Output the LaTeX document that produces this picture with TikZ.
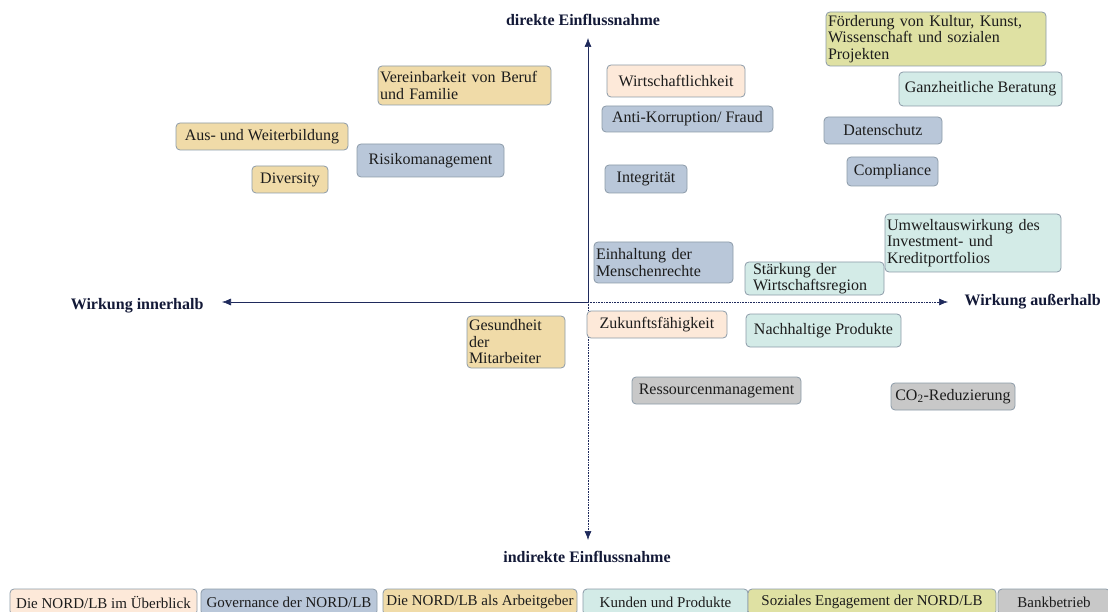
\documentclass[tikz,border=0pt]{standalone}
\usepackage{fontspec}
\setmainfont{Liberation Serif}
\usetikzlibrary{arrows.meta}

\definecolor{cpeach}{HTML}{FDE9D9}
\definecolor{cgov}{HTML}{B9C7D9}
\definecolor{ctan}{HTML}{F0DBA8}
\definecolor{cmint}{HTML}{D3EBE7}
\definecolor{colive}{HTML}{DFE1A3}
\definecolor{cbank}{HTML}{C8C8C8}
\definecolor{crand}{HTML}{8C9BA8}
\definecolor{cachse}{HTML}{1F2A5C}
\definecolor{ctext}{HTML}{1C1C1C}

\tikzset{
  thema/.style={draw=crand, line width=0.8pt, rounded corners=4pt, inner xsep=2pt,
    inner ysep=1pt, align=left, text=ctext, font=\fontsize{16}{16.5}\selectfont},
  ueberblick/.style={thema, fill=cpeach},
  governance/.style={thema, fill=cgov},
  arbeitgeber/.style={thema, fill=ctan},
  kunden/.style={thema, fill=cmint},
  sozial/.style={thema, fill=colive},
  bankbetrieb/.style={thema, fill=cbank},
  legende/.style={minimum height=26pt, inner xsep=1pt, font=\fontsize{15}{16}\selectfont},
  achsenname/.style={text=cachse!60!black, font=\fontsize{16}{16.5}\selectfont\bfseries},
  achse/.style={draw=cachse, line width=0.6pt, -{Latex[length=9pt,width=7pt]}},
}

\begin{document}
\begin{tikzpicture}[x=1pt, y=-1pt]
  \useasboundingbox (0,0) rectangle (1108,612);

  % axes
  \coordinate (mitte) at (588,302);
  \coordinate (oben) at (588,38);
  \coordinate (unten) at (588,540);
  \coordinate (links) at (222,302);
  \coordinate (rechts) at (948,302);

  \node[achsenname] (direkt) at (583,20) {direkte Einflussnahme};
  \node[achsenname] (indirekt) at (587,557) {indirekte Einflussnahme};
  \node[achsenname, anchor=east] (innen) at (207,306) {Wirkung innerhalb};
  \node[achsenname, anchor=west] (aussen) at (961,302) {Wirkung außerhalb};

  \draw[achse] (mitte) -- (oben);
  \draw[achse] (mitte) -- (links);
  \draw[achse, densely dotted] (mitte) -- (rechts);
  \draw[achse, densely dotted] (mitte) -- (unten);

  % upper half
  \node[sozial, text width=216pt, minimum height=54pt] (foerderung) at (936,39)
    {Förderung von Kultur, Kunst,\\Wissenschaft und sozialen\\Projekten};
  \node[kunden, minimum width=163pt, minimum height=34pt] (beratung) at (980.5,89) {Ganzheitliche Beratung};
  \node[ueberblick, minimum width=138pt, minimum height=32pt] (wirtschaft) at (676,81) {Wirtschaftlichkeit};
  \node[governance, minimum width=171pt, minimum height=26pt] (korruption) at (687.5,119) {Anti-Korruption/ Fraud};
  \node[governance, minimum width=118pt, minimum height=27pt] (datenschutz) at (883,130.5) {Datenschutz};
  \node[governance, minimum width=91pt, minimum height=29pt] (compliance) at (892.5,171.5) {Compliance};
  \node[governance, minimum width=82pt, minimum height=28pt] (integritaet) at (646,179) {Integrität};
  \node[arbeitgeber, text width=169pt, minimum height=39pt] (vereinbarkeit) at (464.5,85.5)
    {Vereinbarkeit von Beruf\\und Familie};
  \node[arbeitgeber, minimum width=172pt, minimum height=27pt] (weiterbildung) at (262,136.5) {Aus- und Weiterbildung};
  \node[governance, minimum width=147pt, minimum height=33pt] (risiko) at (430.5,160.5) {Risikomanagement};
  \node[arbeitgeber, minimum width=76pt, minimum height=27pt] (diversity) at (290,179.5) {Diversity};
  \node[governance, text width=135pt, minimum height=41pt] (menschenrechte) at (663.5,262.5)
    {Einhaltung der\\Menschenrechte};
  \node[kunden, text width=135pt, minimum height=33pt] (staerkung) at (814.5,278.5)
    {\hspace*{6pt}Stärkung der\\\hspace*{6pt}Wirtschaftsregion};
  \node[kunden, text width=172pt, minimum height=58pt] (umwelt) at (973,243)
    {Umweltauswirkung des\\Investment- und\\Kreditportfolios};

  % lower half
  \node[ueberblick, minimum width=140pt, minimum height=27pt] (zukunft) at (657,324.5) {Zukunftsfähigkeit};
  \node[kunden, minimum width=155pt, minimum height=33pt] (produkte) at (823.5,330.5) {Nachhaltige Produkte};
  \node[bankbetrieb, minimum width=169pt, minimum height=27pt] (ressourcen) at (716.5,390.5) {Ressourcenmanagement};
  \node[bankbetrieb, minimum width=124pt, minimum height=27pt] (co2) at (953,396.5) {CO\textsubscript{2}-Reduzierung};
  \node[arbeitgeber, text width=94pt, minimum height=52pt] (gesundheit) at (516,342)
    {Gesundheit\\der\\Mitarbeiter};

  % legend
  \node[ueberblick, legende, minimum width=187pt] (legende1) at (103.5,602) {Die NORD/LB im Überblick};
  \node[governance, legende, minimum width=176pt] (legende2) at (289,602) {Governance der NORD/LB};
  \node[arbeitgeber, legende, minimum width=194pt] (legende3) at (480,602) {Die NORD/LB als Arbeitgeber};
  \node[kunden, legende, minimum width=165pt] (legende4) at (665.5,602) {Kunden und Produkte};
  \node[sozial, legende, minimum width=248pt] (legende5) at (872,602) {Soziales Engagement der NORD/LB};
  \node[bankbetrieb, legende, minimum width=112pt] (legende6) at (1054,602) {Bankbetrieb};
\end{tikzpicture}
\end{document}
